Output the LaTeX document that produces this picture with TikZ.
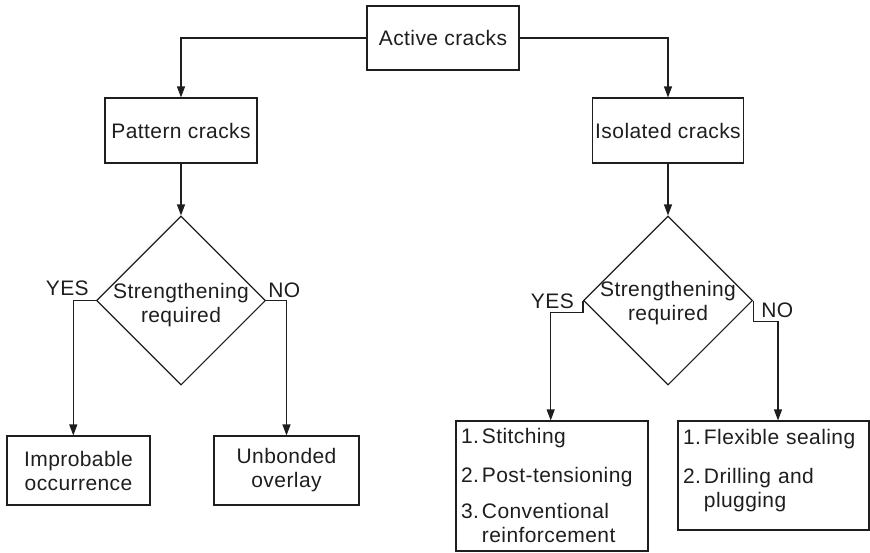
\documentclass[tikz,border=0pt]{standalone}
\usepackage{fontspec}
\setmainfont[LetterSpace=2]{Liberation Sans}
\usetikzlibrary{arrows.meta,shapes.geometric}
\definecolor{ink}{HTML}{1E1E1E}
\begin{document}
\begin{tikzpicture}[x=1pt,y=1pt,
  every node/.style={text=ink, font=\fontsize{21}{24}\selectfont},
  box/.style={draw=ink, line width=1.1pt, inner sep=0pt, align=center},
  listbox/.style={draw=ink, line width=1.1pt, inner xsep=5pt, inner ysep=0pt, align=left},
  decision/.style={draw=ink, line width=1.1pt, diamond, aspect=1, inner sep=0pt,
    minimum width=169pt, minimum height=169pt},
  arr/.style={draw=ink, line width=1.1pt, -{Triangle[length=11pt,width=8pt]}},
  lbl/.style={inner sep=0pt}
]
\useasboundingbox (0,0) rectangle (870,-552);

% top level
\node[box, minimum width=152pt, minimum height=64pt] (act) at (443,-38) {Active cracks};
\node[box, minimum width=152pt, minimum height=65pt] (pat) at (181,-130.5) {Pattern cracks};
\node[box, minimum width=151pt, minimum height=65pt] (iso) at (668,-130.5) {Isolated cracks};

% decisions
\node[decision] (d1) at (181,-300.5) {};
\node[lbl, align=center] (d1t) at (181,-305) {Strengthening\\required};
\node[decision] (d2) at (668,-300.5) {};
\node[lbl, align=center] (d2t) at (668,-303) {Strengthening\\required};

% outcomes, pattern cracks
\node[box, minimum width=143pt, minimum height=69pt] (imp) at (78.5,-470.5)
  {Improbable\\occurrence};
\node[box, minimum width=145pt, minimum height=69pt] (unb) at (286.5,-470.5)
  {Unbonded\\overlay};

% outcomes, isolated cracks
\node[listbox, text width=182pt, minimum height=130pt] (sti) at (552,-486)
  {\begin{tabular}{@{}l@{\hspace{3pt}}l@{}}
   \rule{0pt}{22pt}1. & Stitching\\[15pt]
   2. & Post-tensioning\\[12pt]
   3. & Conventional\\
      & reinforcement
   \end{tabular}};
\node[listbox, text width=181pt, minimum height=109pt] (flx) at (773.5,-475.5)
  {\begin{tabular}{@{}l@{\hspace{3pt}}l@{}}
   1. & Flexible sealing\\[15pt]
   2. & Drilling and\\
      & plugging\\[8pt]
   \end{tabular}};

% connectors
\draw[arr] (act.west) -| (pat.north);
\draw[arr] (act.east) -| (iso.north);
\draw[arr] (pat.south) -- (d1.north);
\draw[arr] (iso.south) -- (d2.north);
\draw[arr] (d1.west) -| ([xshift=-5.2pt]imp.north);
\draw[arr] (d1.east) -| (unb.north);
\draw[arr] (d2.west) -- ++(0,-12) -| ([xshift=-1.3pt]sti.north);
\draw[arr] (d2.east) -- ++(0,-21) -| ([xshift=4.5pt]flx.north);

% branch labels
\node[lbl, anchor=base east] (y1) at ([xshift=-7pt,yshift=5pt]d1.west) {YES};
\node[lbl, anchor=base west] (n1) at ([xshift=2pt,yshift=3pt]d1.east) {NO};
\node[lbl, anchor=base east] (y2) at ([xshift=-9pt,yshift=-8pt]d2.west) {YES};
\node[lbl, anchor=base west] (n2) at ([xshift=8pt,yshift=-16.5pt]d2.east) {NO};
\end{tikzpicture}
\end{document}
